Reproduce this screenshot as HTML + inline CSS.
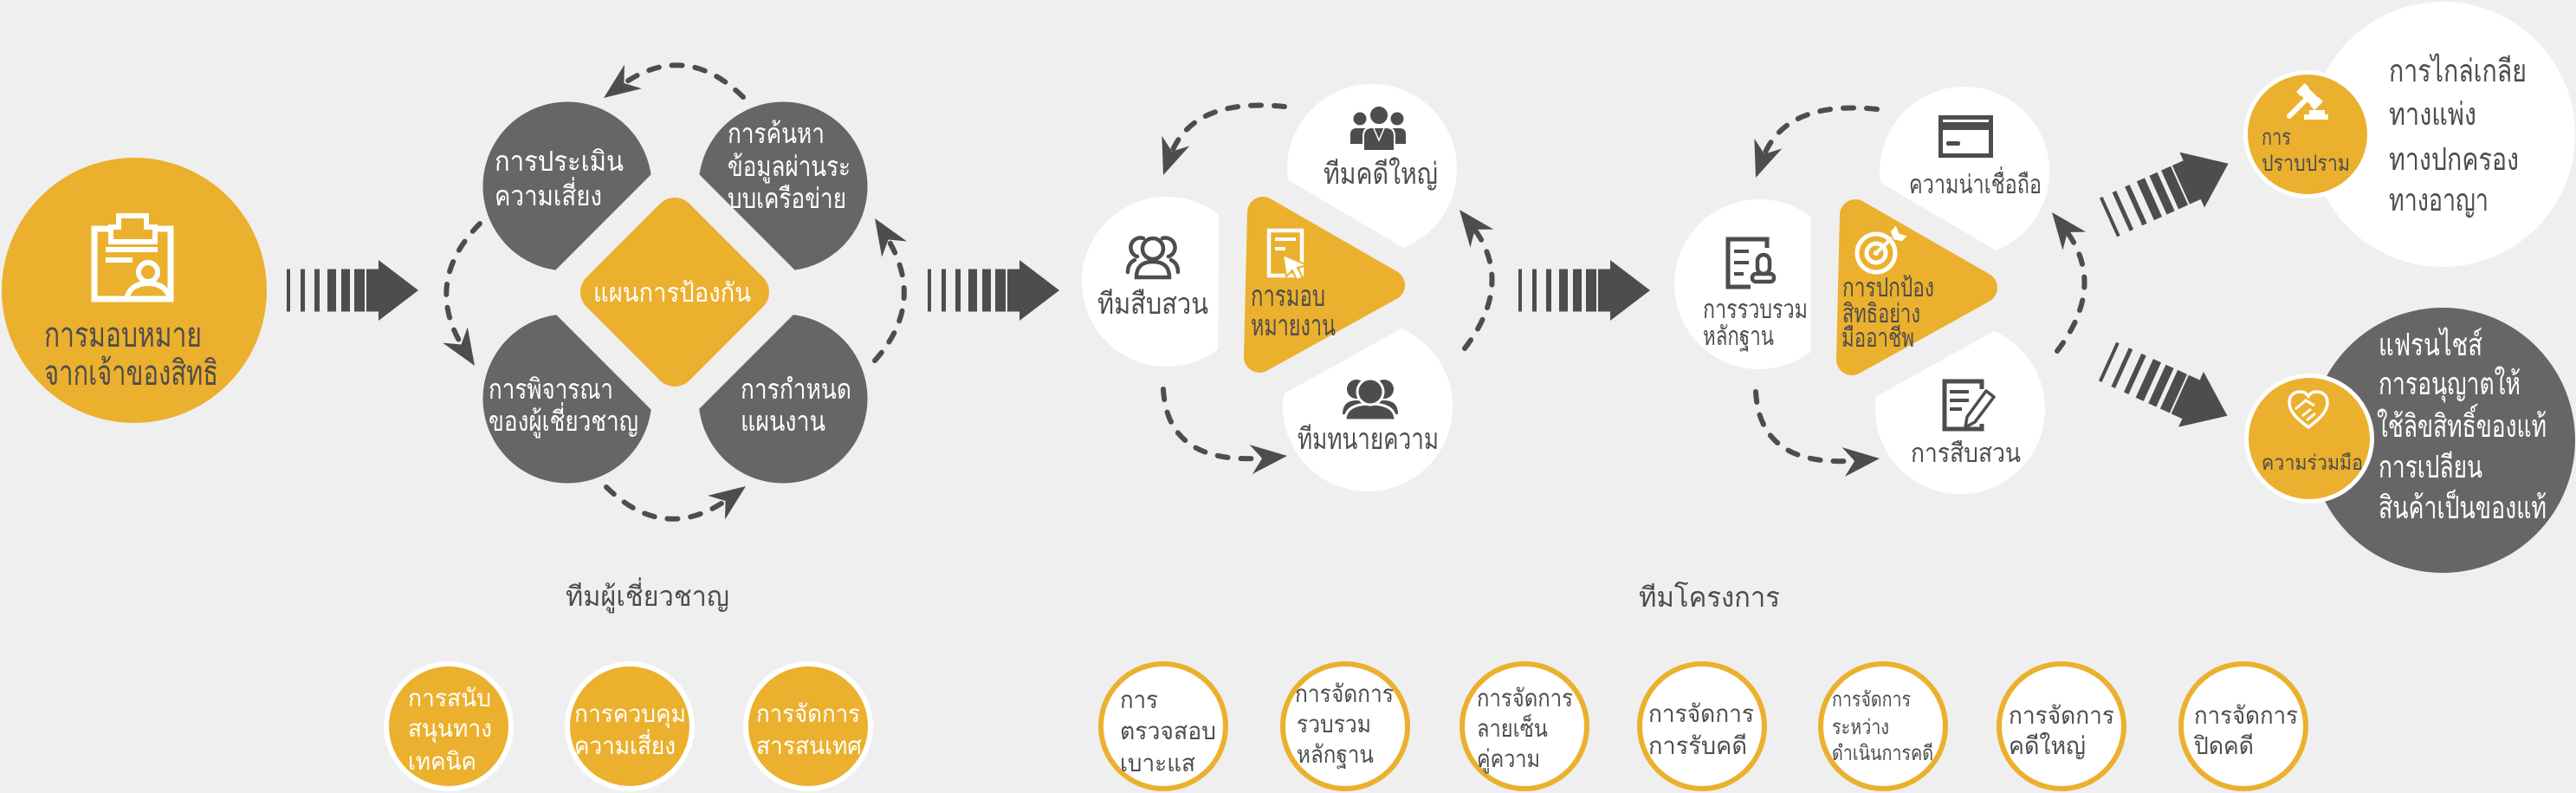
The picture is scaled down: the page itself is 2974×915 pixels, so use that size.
<!DOCTYPE html>
<html><head><meta charset="utf-8">
<style>
html,body{margin:0;padding:0;background:#efefef;}
svg{display:block;}
text{font-family:"Liberation Sans","Noto Sans CJK SC",sans-serif;}
.d{fill:#4d4d4d}
.w{fill:#ffffff}
</style></head><body>
<svg width="2974" height="915" viewBox="0 0 2974 915" xmlns="http://www.w3.org/2000/svg">
<defs>
  <g id="sa" fill="#4d4d4d">
    <rect x="0" y="-24.5" width="4" height="49"/>
    <rect x="16" y="-24.5" width="5" height="49"/>
    <rect x="32" y="-24.5" width="6" height="49"/>
    <rect x="47" y="-24.5" width="10" height="49"/>
    <rect x="63" y="-24.5" width="10" height="49"/>
    <rect x="78" y="-24.5" width="12" height="49"/>
    <path d="M92 -24.5 H106 V-35 L152 0 L106 35 V24.5 H92 Z"/>
  </g>
  <path id="ah" d="M0 0 L-42 -17 L-29 0 L-42 17 Z" fill="#4d4d4d"/>
  <clipPath id="cTL"><polygon points="0,0 953,0 0,953"/></clipPath>
  <clipPath id="cTR"><polygon points="606,0 1200,0 1200,594"/></clipPath>
  <clipPath id="cBL"><polygon points="0,0 279,0 1200,921 0,921"/></clipPath>
  <clipPath id="cBR"><polygon points="1279,0 1400,0 1400,915 364,915"/></clipPath>
  <clipPath id="cL2"><polygon points="1200,0 1408,0 1404,915 1200,915"/></clipPath>
  <clipPath id="cT2"><polygon points="1400,156.4 1800,391.6 1800,0 1400,0"/></clipPath>
  <clipPath id="cB2"><polygon points="1400,499.9 1800,278.3 1800,700 1400,700"/></clipPath>
</defs>

<rect width="2974" height="915" fill="#efefef"/>

<!-- Big orange circle -->
<circle cx="155" cy="335" r="153" fill="#ebb02d"/>
<g fill="none" stroke="#fff" stroke-width="7">
  <rect x="109" y="264" width="88" height="81"/>
  <path d="M137 262 V249 H169 V262 H179 V279 H128 V262 Z" fill="#ebb02d" stroke-width="6"/>
  <circle cx="171" cy="314" r="11" stroke-width="6"/>
  <path d="M146 345 Q150 327 171 327 Q192 327 196 345" stroke-width="6"/>
</g>
<rect x="122" y="285" width="60" height="6" fill="#fff"/>
<rect x="122" y="297" width="31" height="6" fill="#fff"/>
<text x="51" y="400" font-size="40" textLength="182" lengthAdjust="spacingAndGlyphs" class="d">การมอบหมาย</text>
<text x="51" y="444" font-size="40" textLength="201" lengthAdjust="spacingAndGlyphs" class="d">จากเจ้าของสิทธิ</text>

<!-- Striped arrows -->
<use href="#sa" transform="translate(331,335)"/>
<use href="#sa" transform="translate(1071,335)"/>
<use href="#sa" transform="translate(1753,335)"/>
<use href="#sa" transform="translate(2434,251) rotate(-24.2)"/>
<use href="#sa" transform="translate(2433,417) rotate(24.4)"/>

<!-- Cluster 1 -->
<circle cx="655" cy="215" r="97.5" fill="#656665" clip-path="url(#cTL)"/>
<circle cx="904" cy="215" r="97.5" fill="#656665" clip-path="url(#cTR)"/>
<circle cx="655" cy="460" r="97.5" fill="#656665" clip-path="url(#cBL)"/>
<circle cx="904" cy="460" r="97.5" fill="#656665" clip-path="url(#cBR)"/>
<polygon points="779,252 864,337 779,422 694,337" fill="#ebb02d" stroke="#ebb02d" stroke-width="48" stroke-linejoin="round"/>
<text x="571" y="197" font-size="32" textLength="149" lengthAdjust="spacingAndGlyphs" class="w">การประเมิน</text>
<text x="571" y="237" font-size="32" textLength="124" lengthAdjust="spacingAndGlyphs" class="w">ความเสี่ยง</text>
<text x="840" y="165" font-size="32" textLength="112" lengthAdjust="spacingAndGlyphs" class="w">การค้นหา</text>
<text x="840" y="203" font-size="32" textLength="142" lengthAdjust="spacingAndGlyphs" class="w">ข้อมูลผ่านระ</text>
<text x="840" y="240" font-size="32" textLength="137" lengthAdjust="spacingAndGlyphs" class="w">บบเครือข่าย</text>
<text x="564" y="460" font-size="32" textLength="144" lengthAdjust="spacingAndGlyphs" class="w">การพิจารณา</text>
<text x="564" y="497" font-size="32" textLength="173" lengthAdjust="spacingAndGlyphs" class="w">ของผู้เชี่ยวชาญ</text>
<text x="855" y="460" font-size="32" textLength="128" lengthAdjust="spacingAndGlyphs" class="w">การกำหนด</text>
<text x="855" y="497" font-size="32" textLength="98" lengthAdjust="spacingAndGlyphs" class="w">แผนงาน</text>
<text x="685" y="348" font-size="30" textLength="182" lengthAdjust="spacingAndGlyphs" class="w">แผนการป้องกัน</text>

<!-- Cluster 1 dashed arcs -->
<g fill="none" stroke="#4d4d4d" stroke-width="6" stroke-dasharray="12 15" stroke-linecap="round">
  <path d="M858 112 Q790 45 715 100"/>
  <path d="M554 258 Q487 326 536 403"/>
  <path d="M700 562 Q768 629 843 574"/>
  <path d="M1010 416 Q1071 348 1022 271"/>
</g>
<use href="#ah" transform="translate(697,113) rotate(144)"/>
<use href="#ah" transform="translate(548,422) rotate(57.6)"/>
<use href="#ah" transform="translate(861,561) rotate(-36)"/>
<use href="#ah" transform="translate(1010,252) rotate(-122.4)"/>

<!-- Cluster 2 and 3 shapes -->
<g>
  <circle cx="1347" cy="325" r="98" fill="#fff" clip-path="url(#cL2)"/>
  <circle cx="1584" cy="195" r="98" fill="#fff" clip-path="url(#cT2)"/>
  <circle cx="1579" cy="469" r="98" fill="#fff" clip-path="url(#cB2)"/>
  <polygon points="1458,245 1454,412 1604,329" fill="#ebb02d" stroke="#ebb02d" stroke-width="36" stroke-linejoin="round"/>
  <g fill="none" stroke="#4d4d4d" stroke-width="6" stroke-dasharray="12 15" stroke-linecap="round">
    <path d="M1483 123 Q1375 112 1350.5 181.3"/>
    <path d="M1343 449 Q1348 539 1464 528"/>
    <path d="M1691 402 Q1750 325 1698.5 259.3"/>
  </g>
  <use href="#ah" transform="translate(1343,202) rotate(110)"/>
  <use href="#ah" transform="translate(1486,526) rotate(-5.6)"/>
  <use href="#ah" transform="translate(1685,242) rotate(-128)"/>
</g>
<g transform="translate(684,3)">
  <circle cx="1347" cy="325" r="98" fill="#fff" clip-path="url(#cL2)"/>
  <circle cx="1584" cy="195" r="98" fill="#fff" clip-path="url(#cT2)"/>
  <circle cx="1579" cy="469" r="98" fill="#fff" clip-path="url(#cB2)"/>
  <polygon points="1458,245 1454,412 1604,329" fill="#ebb02d" stroke="#ebb02d" stroke-width="36" stroke-linejoin="round"/>
  <g fill="none" stroke="#4d4d4d" stroke-width="6" stroke-dasharray="12 15" stroke-linecap="round">
    <path d="M1483 123 Q1375 112 1350.5 181.3"/>
    <path d="M1343 449 Q1348 539 1464 528"/>
    <path d="M1691 402 Q1750 325 1698.5 259.3"/>
  </g>
  <use href="#ah" transform="translate(1343,202) rotate(110)"/>
  <use href="#ah" transform="translate(1486,526) rotate(-5.6)"/>
  <use href="#ah" transform="translate(1685,242) rotate(-128)"/>
</g>

<!-- Cluster 2 icons -->
<g fill="none" stroke="#4d4d4d" stroke-width="4.5" stroke-linecap="round">
  <path d="M1320 275 A11 11 0 0 0 1313 296"/>
  <path d="M1310 300 Q1302 304 1302 314"/>
  <path d="M1342 275 A11 11 0 0 1 1349 296"/>
  <path d="M1352 300 Q1360 304 1360 314"/>
  <circle cx="1331" cy="287" r="12"/>
  <path d="M1312 320 Q1312 302 1331 302 Q1350 302 1350 320 Z"/>
</g>
<g fill="#4d4d4d">
  <circle cx="1570" cy="137" r="7.5"/>
  <path d="M1559 166 V155 Q1559 148 1566 148 H1578 V166 Z"/>
  <circle cx="1613" cy="137" r="7.5"/>
  <path d="M1623 166 V155 Q1623 148 1616 148 H1604 V166 Z"/>
  <path d="M1574 174 V157 Q1574 147 1584 147 H1600 Q1610 147 1610 157 V174 Z" stroke="#fff" stroke-width="2"/>
  <circle cx="1592" cy="133" r="11" stroke="#fff" stroke-width="2"/>
</g>
<path d="M1586 148 L1592 162 L1598 148" fill="none" stroke="#fff" stroke-width="1.5"/>
<g fill="#4d4d4d">
  <circle cx="1566" cy="449" r="11"/>
  <circle cx="1598" cy="449" r="11"/>
  <path d="M1550 478 Q1550 462 1566 462 Q1582 462 1582 478 Z"/>
  <path d="M1582 478 Q1582 462 1598 462 Q1614 462 1614 478 Z"/>
  <path d="M1553 485 Q1553 466 1582 466 Q1611 466 1611 485 Z" stroke="#fff" stroke-width="3"/>
  <circle cx="1582" cy="452" r="15" stroke="#fff" stroke-width="3"/>
</g>
<g>
  <rect x="1465" y="266" width="38" height="52" fill="none" stroke="#fff" stroke-width="4.5"/>
  <rect x="1472" y="274" width="24" height="4" fill="#fff"/>
  <rect x="1472" y="285" width="12" height="4" fill="#fff"/>
  <path d="M1481 294 L1509 306 L1498 309 L1504 320 L1497 323 L1492 312 L1485 319 Z" fill="#fff" stroke="#ebb02d" stroke-width="2"/>
</g>
<text x="1267" y="362" font-size="34" textLength="128" lengthAdjust="spacingAndGlyphs" class="d">ทีมสืบสวน</text>
<text x="1444" y="353" font-size="34" textLength="86" lengthAdjust="spacingAndGlyphs" class="d">การมอบ</text>
<text x="1444" y="387" font-size="34" textLength="98" lengthAdjust="spacingAndGlyphs" class="d">หมายงาน</text>
<text x="1528" y="212" font-size="34" textLength="132" lengthAdjust="spacingAndGlyphs" class="d">ทีมคดีใหญ่</text>
<text x="1498" y="518" font-size="34" textLength="163" lengthAdjust="spacingAndGlyphs" class="d">ทีมทนายความ</text>

<!-- Cluster 3 icons -->
<g fill="none" stroke="#4d4d4d" stroke-width="5">
  <path d="M2040 286 V276 H1995 V331 H2021"/>
  <rect x="2029" y="294" width="14" height="22" rx="7" stroke-width="4.5"/>
  <rect x="2023" y="316" width="25" height="9" rx="4" stroke-width="4.5"/>
</g>
<g fill="#4d4d4d">
  <rect x="2002" y="288" width="17" height="4"/>
  <rect x="2002" y="301" width="17" height="4"/>
  <rect x="2002" y="314" width="11" height="4"/>
</g>
<rect x="2240.5" y="135.5" width="58" height="44" fill="none" stroke="#4d4d4d" stroke-width="5"/>
<rect x="2240" y="141" width="59" height="9" fill="#4d4d4d"/>
<rect x="2247" y="163" width="16" height="5" rx="2" fill="#4d4d4d"/>
<path d="M2288 449 V440 H2245 V495 H2288 V489" fill="none" stroke="#4d4d4d" stroke-width="5"/>
<rect x="2251" y="450" width="22" height="4" fill="#4d4d4d"/>
<rect x="2251" y="460" width="22" height="4" fill="#4d4d4d"/>
<rect x="2251" y="470" width="14" height="4" fill="#4d4d4d"/>
<path d="M2293 451 L2302 458 L2280 487 L2269 493 L2271 481 Z" fill="#fff" stroke="#4d4d4d" stroke-width="3.5" stroke-linejoin="round"/>
<g fill="none" stroke="#fff" stroke-width="5">
  <circle cx="2166" cy="292" r="22"/>
  <circle cx="2166" cy="292" r="11"/>
</g>
<circle cx="2166" cy="292" r="3" fill="#fff"/>
<line x1="2166" y1="292" x2="2186" y2="273" stroke="#fff" stroke-width="4"/>
<polygon points="2182,267 2189,259 2193,269 2203,272 2196,279 2186,277" fill="#fff" stroke="#ebb02d" stroke-width="1.5"/>
<text x="1966" y="367" font-size="30" textLength="121" lengthAdjust="spacingAndGlyphs" class="d">การรวบรวม</text>
<text x="1966" y="398" font-size="30" textLength="82" lengthAdjust="spacingAndGlyphs" class="d">หลักฐาน</text>
<text x="2127" y="342" font-size="30" textLength="106" lengthAdjust="spacingAndGlyphs" class="d">การปกป้อง</text>
<text x="2127" y="372" font-size="30" textLength="90" lengthAdjust="spacingAndGlyphs" class="d">สิทธิอย่าง</text>
<text x="2126" y="400" font-size="30" textLength="84" lengthAdjust="spacingAndGlyphs" class="d">มืออาชีพ</text>
<text x="2204" y="223" font-size="30" textLength="153" lengthAdjust="spacingAndGlyphs" class="d">ความน่าเชื่อถือ</text>
<text x="2206" y="533" font-size="30" textLength="127" lengthAdjust="spacingAndGlyphs" class="d">การสืบสวน</text>

<!-- Right side -->
<circle cx="2820" cy="155" r="153" fill="#fff"/>
<circle cx="2664" cy="155" r="74" fill="#fff"/>
<circle cx="2664" cy="155" r="69" fill="#ebb02d"/>
<circle cx="2820" cy="508" r="153" fill="#656665"/>
<circle cx="2666" cy="506" r="75" fill="#fff"/>
<circle cx="2666" cy="506" r="70" fill="#ebb02d"/>
<!-- gavel -->
<line x1="2656" y1="101" x2="2677" y2="122" stroke="#fff" stroke-width="14"/>
<line x1="2661" y1="106" x2="2672" y2="117" stroke="#ebb02d" stroke-width="16" stroke-dasharray="0 0"/>
<line x1="2656" y1="101" x2="2677" y2="122" stroke="#fff" stroke-width="12"/>
<line x1="2664" y1="113" x2="2643" y2="134" stroke="#fff" stroke-width="6" stroke-linecap="round"/>
<rect x="2666" y="127" width="18" height="5" fill="#fff"/>
<rect x="2660" y="132" width="28" height="6" fill="#fff"/>
<!-- handshake heart -->
<path d="M2665 493 C2650 482 2643 474 2643 464 C2643 455 2650 452 2656 452 C2660 452 2663 454 2665 457 C2667 454 2670 452 2674 452 C2680 452 2687 455 2687 464 C2687 474 2680 482 2665 493 Z" fill="none" stroke="#fff" stroke-width="3.5"/>
<path d="M2650 472 L2662 462 L2672 468 M2658 480 L2668 472 M2663 485 L2673 477" fill="none" stroke="#fff" stroke-width="3"/>
<text x="2611" y="167" font-size="26" textLength="34" lengthAdjust="spacingAndGlyphs" class="d">การ</text>
<text x="2611" y="197" font-size="26" textLength="102" lengthAdjust="spacingAndGlyphs" class="d">ปราบปราม</text>
<text x="2611" y="542" font-size="24" textLength="117" lengthAdjust="spacingAndGlyphs" class="d">ความร่วมมือ</text>
<text x="2758" y="94" font-size="36" textLength="159" lengthAdjust="spacingAndGlyphs" class="d">การไกล่เกลีย</text>
<text x="2758" y="144" font-size="36" textLength="101" lengthAdjust="spacingAndGlyphs" class="d">ทางแพ่ง</text>
<text x="2758" y="196" font-size="36" textLength="150" lengthAdjust="spacingAndGlyphs" class="d">ทางปกครอง</text>
<text x="2758" y="243" font-size="36" textLength="115" lengthAdjust="spacingAndGlyphs" class="d">ทางอาญา</text>
<text x="2746" y="410" font-size="36" textLength="120" lengthAdjust="spacingAndGlyphs" class="w">แฟรนไชส์</text>
<text x="2746" y="455" font-size="36" textLength="164" lengthAdjust="spacingAndGlyphs" class="w">การอนุญาตให้</text>
<text x="2744" y="504" font-size="36" textLength="196" lengthAdjust="spacingAndGlyphs" class="w">ใช้ลิขสิทธิ์ของแท้</text>
<text x="2746" y="551" font-size="36" textLength="120" lengthAdjust="spacingAndGlyphs" class="w">การเปลียน</text>
<text x="2746" y="598" font-size="36" textLength="194" lengthAdjust="spacingAndGlyphs" class="w">สินค้าเป็นของแท้</text>

<!-- Bottom labels -->
<text x="653" y="699" font-size="32" textLength="189" lengthAdjust="spacingAndGlyphs" class="d">ทีมผู้เชี่ยวชาญ</text>
<text x="1892" y="700" font-size="32" textLength="163" lengthAdjust="spacingAndGlyphs" class="d">ทีมโครงการ</text>

<!-- Bottom circles group 1 -->
<g fill="#ebb02d" stroke="#fff" stroke-width="6">
  <circle cx="518" cy="838" r="72"/>
  <circle cx="727" cy="838" r="72"/>
  <circle cx="933" cy="838" r="72"/>
</g>
<text x="471" y="815" font-size="28" textLength="96" lengthAdjust="spacingAndGlyphs" class="w">การสนับ</text>
<text x="471" y="850" font-size="28" textLength="97" lengthAdjust="spacingAndGlyphs" class="w">สนุนทาง</text>
<text x="471" y="888" font-size="28" textLength="79" lengthAdjust="spacingAndGlyphs" class="w">เทคนิค</text>
<text x="663" y="833" font-size="28" textLength="129" lengthAdjust="spacingAndGlyphs" class="w">การควบคุม</text>
<text x="663" y="870" font-size="28" textLength="117" lengthAdjust="spacingAndGlyphs" class="w">ความเสี่ยง</text>
<text x="873" y="833" font-size="28" textLength="120" lengthAdjust="spacingAndGlyphs" class="w">การจัดการ</text>
<text x="873" y="870" font-size="28" textLength="122" lengthAdjust="spacingAndGlyphs" class="w">สารสนเทศ</text>

<!-- Bottom circles group 2 -->
<g fill="#fff" stroke="#ebb02d" stroke-width="6">
  <circle cx="1343" cy="838" r="72"/>
  <circle cx="1553" cy="838" r="72"/>
  <circle cx="1760" cy="838" r="72"/>
  <circle cx="1965" cy="838" r="72"/>
  <circle cx="2174" cy="838" r="72"/>
  <circle cx="2380" cy="838" r="72"/>
  <circle cx="2590" cy="838" r="72"/>
</g>
<text x="1293" y="817" font-size="28" textLength="44" lengthAdjust="spacingAndGlyphs" class="d">การ</text>
<text x="1293" y="853" font-size="28" textLength="111" lengthAdjust="spacingAndGlyphs" class="d">ตรวจสอบ</text>
<text x="1293" y="890" font-size="28" textLength="87" lengthAdjust="spacingAndGlyphs" class="d">เบาะแส</text>
<text x="1495" y="810" font-size="28" textLength="114" lengthAdjust="spacingAndGlyphs" class="d">การจัดการ</text>
<text x="1497" y="845" font-size="28" textLength="86" lengthAdjust="spacingAndGlyphs" class="d">รวบรวม</text>
<text x="1497" y="880" font-size="28" textLength="89" lengthAdjust="spacingAndGlyphs" class="d">หลักฐาน</text>
<text x="1705" y="815" font-size="28" textLength="111" lengthAdjust="spacingAndGlyphs" class="d">การจัดการ</text>
<text x="1705" y="850" font-size="28" textLength="82" lengthAdjust="spacingAndGlyphs" class="d">ลายเซ็น</text>
<text x="1705" y="885" font-size="28" textLength="73" lengthAdjust="spacingAndGlyphs" class="d">คู่ความ</text>
<text x="1903" y="833" font-size="28" textLength="122" lengthAdjust="spacingAndGlyphs" class="d">การจัดการ</text>
<text x="1903" y="870" font-size="28" textLength="114" lengthAdjust="spacingAndGlyphs" class="d">การรับคดี</text>
<text x="2115" y="815" font-size="24" textLength="91" lengthAdjust="spacingAndGlyphs" class="d">การจัดการ</text>
<text x="2115" y="847" font-size="24" textLength="66" lengthAdjust="spacingAndGlyphs" class="d">ระหว่าง</text>
<text x="2115" y="877" font-size="24" textLength="117" lengthAdjust="spacingAndGlyphs" class="d">ดำเนินการคดี</text>
<text x="2319" y="835" font-size="28" textLength="122" lengthAdjust="spacingAndGlyphs" class="d">การจัดการ</text>
<text x="2319" y="870" font-size="28" textLength="89" lengthAdjust="spacingAndGlyphs" class="d">คดีใหญ่</text>
<text x="2533" y="835" font-size="28" textLength="120" lengthAdjust="spacingAndGlyphs" class="d">การจัดการ</text>
<text x="2533" y="870" font-size="28" textLength="69" lengthAdjust="spacingAndGlyphs" class="d">ปิดคดี</text>
</svg>
</body></html>
